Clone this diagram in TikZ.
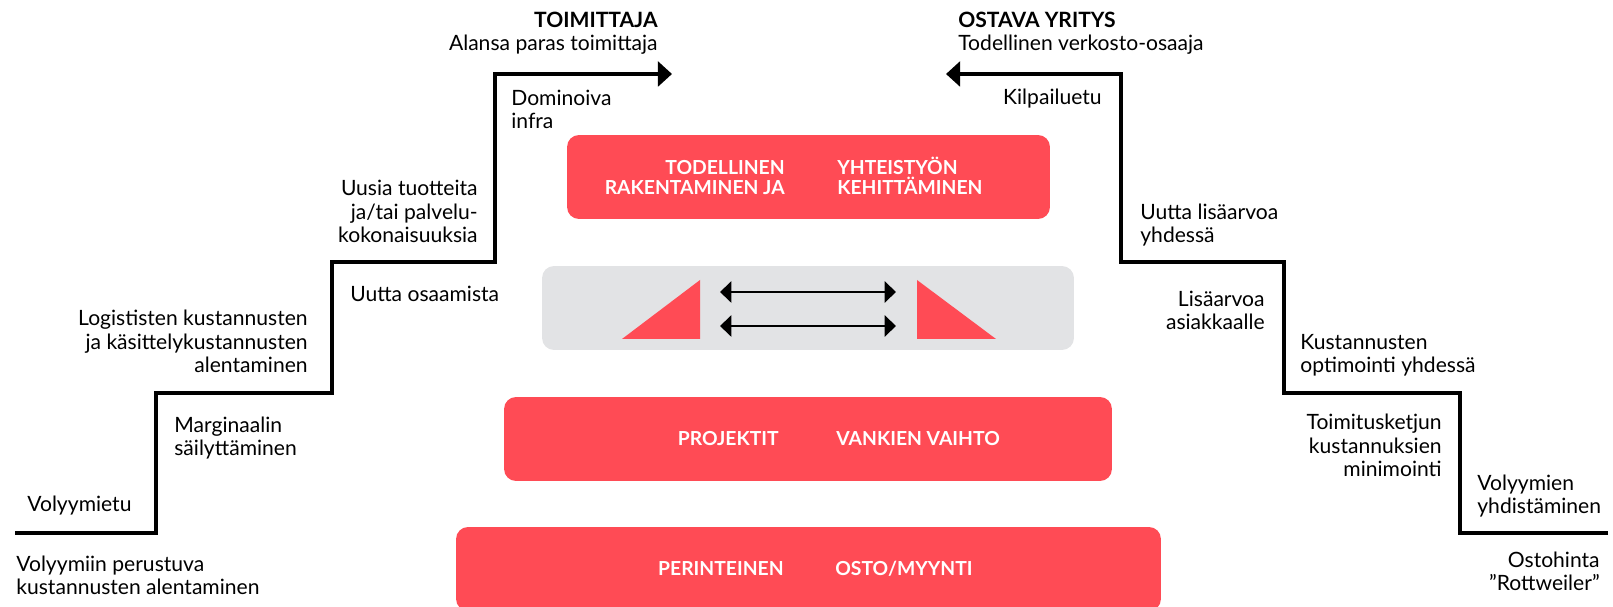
\documentclass[tikz,border=0pt]{standalone}
\usepackage{fontspec}
\setmainfont{Lato}
\usepackage{xcolor}
\definecolor{stepred}{HTML}{FF4B55}
\definecolor{panelgray}{HTML}{E2E3E5}
\usetikzlibrary{arrows.meta}

\begin{document}
\begin{tikzpicture}[x=0.02cm,y=-0.02cm,
    lbl/.style={inner sep=0pt,font=\fontsize{12}{13.6}\selectfont},
    boxtxt/.style={inner sep=0pt,text=white,font=\bfseries\fontsize{11}{11.4}\selectfont},
    bar/.style={fill=stepred,rounded corners=0.24cm,inner sep=0pt,minimum height=1.68cm},
    stair/.style={line width=2.3pt,-{Triangle[length=8pt,width=14pt]}},
    swap/.style={line width=1.7pt,{Triangle[length=6.5pt,width=12pt]}-{Triangle[length=6.5pt,width=12pt]}}]
  \useasboundingbox (0,0) rectangle (1613,607);

  % the four levels
  \node[bar,minimum width=9.66cm] (yht) at (808.5,177) {};
  \node[bar,fill=panelgray,minimum width=10.64cm] (osaa) at (808,308) {};
  \node[bar,minimum width=12.16cm] (proj) at (808,439) {};
  \node[bar,minimum width=14.1cm] (peri) at (808.5,569) {};

  \node[boxtxt,align=right,anchor=base east] (yhtL) at (785,195) {TODELLINEN\\RAKENTAMINEN JA};
  \node[boxtxt,align=left,anchor=base west] (yhtR) at (837,195) {YHTEISTYÖN\\KEHITTÄMINEN};
  \node[boxtxt,anchor=base east] (projL) at (779,445.5) {PROJEKTIT};
  \node[boxtxt,anchor=base west] (projR) at (836,445.5) {VANKIEN VAIHTO};
  \node[boxtxt,anchor=base east] (periL) at (784,575.5) {PERINTEINEN};
  \node[boxtxt,anchor=base west] (periR) at (835,575.5) {OSTO/MYYNTI};

  % know-how exchange
  \fill[stepred] (622,339) -- (700,280) -- (700,339) -- cycle;
  \fill[stepred] (917,280) -- (917,339) -- (996,339) -- cycle;
  \coordinate (sw1a) at (720,292);
  \coordinate (sw1b) at (896,292);
  \coordinate (sw2a) at (720,326);
  \coordinate (sw2b) at (896,326);
  \draw[swap] (sw1a) -- (sw1b);
  \draw[swap] (sw2a) -- (sw2b);

  % supplier stairs
  \coordinate (ls0) at (15,533);
  \coordinate (ls1) at (156,393);
  \coordinate (ls2) at (332,262);
  \coordinate (ls3) at (495,74);
  \coordinate (ls4) at (672,74);
  \draw[stair] (ls0) -| (ls1) -| (ls2) -| (ls3) -- (ls4);

  % buyer stairs
  \coordinate (rs0) at (1608,533);
  \coordinate (rs1) at (1460,393);
  \coordinate (rs2) at (1284,262);
  \coordinate (rs3) at (1121,74);
  \coordinate (rs4) at (946,74);
  \draw[stair] (rs0) -| (rs1) -| (rs2) -| (rs3) -- (rs4);

  % left labels
  \node[lbl,align=right,anchor=base east] (toim) at (658,51) {{\bfseries TOIMITTAJA}\\Alansa paras toimittaja};
  \node[lbl,align=left,anchor=base west] (domi) at (511,129) {Dominoiva\\infra};
  \node[lbl,align=right,anchor=base east] (uusi) at (478,243) {Uusia tuotteita\\ja/tai palvelu-\\kokonaisuuksia};
  \node[lbl,anchor=base west] (osaam) at (350,302) {Uutta osaamista};
  \node[lbl,align=right,anchor=base east] (logi) at (308,373) {Logististen kustannusten\\ja käsittelykustannusten\\alentaminen};
  \node[lbl,align=left,anchor=base west] (marg) at (174,456) {Marginaalin\\säilyttäminen};
  \node[lbl,anchor=base west] (voletu) at (27,512) {Volyymietu};
  \node[lbl,align=left,anchor=base west] (volper) at (16,595) {Volyymiin perustuva\\kustannusten alentaminen};

  % right labels
  \node[lbl,align=left,anchor=base west] (ostava) at (958,51) {{\bfseries OSTAVA YRITYS}\\Todellinen verkosto-osaaja};
  \node[lbl,anchor=base east] (kilp) at (1102,105) {Kilpailuetu};
  \node[lbl,align=left,anchor=base west] (lisy) at (1140,243) {Uutta lisäarvoa\\yhdessä};
  \node[lbl,align=right,anchor=base east] (lisa) at (1265,330) {Lisäarvoa\\asiakkaalle};
  \node[lbl,align=left,anchor=base west] (kust) at (1300,373) {Kustannusten\\optimointi yhdessä};
  \node[lbl,align=right,anchor=base east] (toimk) at (1442,477) {Toimitusketjun\\kustannuksien\\minimointi};
  \node[lbl,align=left,anchor=base west] (volyh) at (1477,514) {Volyymien\\yhdistäminen};
  \node[lbl,align=right,anchor=base east] (osto) at (1600,591) {Ostohinta\\”Rottweiler”};
\end{tikzpicture}
\end{document}
